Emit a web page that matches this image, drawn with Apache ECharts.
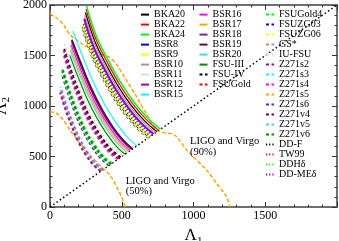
<!DOCTYPE html>
<html><head><meta charset="utf-8">
<script src="https://cdn.jsdelivr.net/npm/echarts@6/dist/echarts.min.js"></script>
<style>html,body{margin:0;padding:0;background:#fff}#c{width:339px;height:241px}</style>
</head><body><div id="c"></div>
<script>
// ---- data: [Lambda1, Lambda2] ----
const BKA24 = [[770,770],[678,886],[585,1040],[493,1232],[408,1448],[323,1694],[255,1990]];
const BKA22 = [[758,758],[667,872],[576,1023],[485,1213],[402,1425],[318,1668],[251,1959]];
const BKA20 = [[745,745],[656,857],[566,1006],[477,1192],[395,1401],[313,1639],[247,1926]];
const BSR10 = [[735,735],[647,845],[559,992],[470,1176],[390,1382],[309,1617],[243,1900]];
const BSR11 = [[728,728],[641,837],[553,983],[466,1165],[386,1369],[306,1602],[241,1882]];
const BSR12 = [[722,722],[635,830],[549,975],[462,1155],[383,1357],[303,1588],[239,1866]];
const DDMEd = [[715,715],[629,822],[543,965],[458,1144],[379,1344],[300,1573],[237,1848]];
const TW99 = [[710,710],[625,817],[540,959],[454,1136],[376,1335],[298,1562],[235,1835]];
const DDHd = [[705,705],[620,811],[536,952],[451,1128],[374,1325],[296,1551],[233,1822]];
const DDF = [[700,700],[616,805],[532,945],[448,1120],[371,1316],[294,1540],[232,1810]];
const BSR9 = [[695,695],[612,799],[528,938],[445,1112],[368,1307],[292,1529],[230,1797]];
const BSR8 = [[690,690],[607,794],[524,932],[442,1104],[366,1297],[290,1518],[228,1784]];
const FSUZG06 = [[688,688],[605,791],[523,929],[440,1101],[365,1293],[289,1514],[228,1778]];
const FSUZG03 = [[685,685],[603,788],[521,925],[438,1096],[363,1288],[288,1507],[227,1771]];

const BSR15 = [[605,605],[532,702],[454,847],[375,1029],[303,1234],[230,1482],[160,1742]];
const BSR19 = [[575,575],[506,667],[431,805],[357,978],[288,1173],[219,1409],[152,1656]];
const BSR18 = [[568,568],[500,659],[426,795],[352,966],[284,1159],[216,1392],[150,1636]];
const BSR16 = [[558,558],[491,647],[419,781],[346,949],[279,1138],[212,1367],[147,1607]];
const BSR17 = [[548,548],[482,636],[411,767],[340,932],[274,1118],[208,1343],[145,1578]];
const BSR20 = [[538,538],[473,624],[404,753],[334,915],[269,1098],[204,1318],[142,1549]];
const FSUIII = [[522,522],[459,606],[392,731],[324,887],[261,1065],[198,1279],[138,1503]];

const IUFSU = [[505,505],[434,591],[359,732],[283,919],[212,1151],[152,1389],[101,1616]];
const FSUIV = [[492,492],[423,576],[349,713],[276,895],[207,1122],[148,1353],[98,1574]];
const FSUGold = [[484,484],[416,566],[344,702],[271,881],[203,1104],[145,1331],[97,1549]];
const Z271s2 = [[478,478],[411,559],[339,693],[268,870],[201,1090],[143,1315],[96,1530]];
const GSstar = [[470,470],[404,550],[334,682],[263,855],[197,1072],[141,1293],[94,1504]];
const FSUGold4 = [[432,432],[372,505],[307,626],[242,786],[181,985],[130,1188],[86,1382]];
const Z271v6 = [[425,425],[366,497],[302,616],[238,774],[179,969],[128,1169],[85,1360]];
const Z271v5 = [[418,418],[359,489],[297,606],[234,761],[176,953],[125,1150],[84,1338]];
const Z271v4 = [[412,412],[354,482],[293,597],[231,750],[173,939],[124,1133],[82,1318]];
const Z271s3 = [[372,372],[320,435],[264,539],[208,677],[156,848],[112,1023],[74,1190]];
const Z271s4 = [[366,366],[315,428],[260,531],[205,666],[154,834],[110,1006],[73,1171]];
const Z271s5 = [[360,360],[310,421],[256,522],[202,655],[151,821],[108,990],[72,1152]];
const Z271s6 = [[354,354],[304,414],[251,513],[198,644],[149,807],[106,973],[71,1133]];

const LIGO90 = [[0,1910],[47,1871],[93,1805],[139,1705],[186,1655],[232,1606],[302,1556],[371,1506],[418,1480],[470,1400],[530,1260],[600,1100],[680,900],[743,760],[800,735],[850,725],[883,695],[953,563],[999,497],[1092,364],[1162,232],[1231,99],[1254,0]];
const LIGO50 = [[0,943],[47,927],[93,861],[139,762],[209,630],[279,514],[348,414],[418,315],[465,199],[500,99],[523,0]];
const DIAG = [[0,0],[2000,2000]];

const legendCol1 = ['BKA20','BKA22','BKA24','BSR8','BSR9','BSR10','BSR11','BSR12','BSR15'];
const legendCol2 = ['BSR16','BSR17','BSR18','BSR19','BSR20','FSU-III','FSU-IV','FSUGold'];
const legendCol3 = ['FSUGold4','FSUZG03','FSUZG06','GS*','IU-FSU','Z271s2','Z271s3','Z271s4','Z271s5','Z271s6','Z271v4','Z271v5','Z271v6','DD-F','TW99','DDH\u03b4','DD-ME\u03b4'];
const xTickLabels = ['0','500','1000','1500',''];
const yTickLabels = ['0','500','1000','1500','2000'];

// ---- styling ----
const curveData = {
  'BKA20':BKA20,'BKA22':BKA22,'BKA24':BKA24,'BSR8':BSR8,'BSR9':BSR9,'BSR10':BSR10,'BSR11':BSR11,'BSR12':BSR12,'BSR15':BSR15,
  'BSR16':BSR16,'BSR17':BSR17,'BSR18':BSR18,'BSR19':BSR19,'BSR20':BSR20,'FSU-III':FSUIII,'FSU-IV':FSUIV,'FSUGold':FSUGold,
  'FSUGold4':FSUGold4,'FSUZG03':FSUZG03,'FSUZG06':FSUZG06,'GS*':GSstar,'IU-FSU':IUFSU,'Z271s2':Z271s2,'Z271s3':Z271s3,
  'Z271s4':Z271s4,'Z271s5':Z271s5,'Z271s6':Z271s6,'Z271v4':Z271v4,'Z271v5':Z271v5,'Z271v6':Z271v6,
  'DD-F':DDF,'TW99':TW99,'DDH\u03b4':DDHd,'DD-ME\u03b4':DDMEd
};
const C = {black:'#000000',red:'#ff0000',green:'#00ff00',blue:'#0000ff',yellow:'#ffff00',brown:'#bc8f8f',grey:'#dcdcdc',
  violet:'#9400d3',cyan:'#00ffff',magenta:'#ff00ff',orange:'#ffa500',indigo:'#7221bc',maroon:'#670748',turq:'#40e0d0',green4:'#008b00'};
const DASH = [3,2.5], DOT = [1.2,2];
const styleOf = {
  'BKA20':[C.black,'solid',1.2],'BKA22':[C.red,'solid',1.2],'BKA24':[C.green,'solid',1.5],'BSR8':[C.blue,'solid',1.2],
  'BSR9':[C.yellow,'solid',1.2],'BSR10':[C.brown,'solid',1.2],'BSR11':[C.grey,'solid',1.2],'BSR12':[C.violet,'solid',2],
  'BSR15':[C.cyan,'solid',1.2],'BSR16':[C.magenta,'solid',1.2],'BSR17':[C.orange,'solid',1.2],'BSR18':[C.indigo,'solid',1.2],
  'BSR19':[C.maroon,'solid',2],'BSR20':[C.turq,'solid',1.2],'FSU-III':[C.green4,'solid',1.2],'FSU-IV':[C.black,DASH,2],
  'FSUGold':[C.red,DASH,2],'FSUGold4':[C.green,DASH,2],'FSUZG03':[C.blue,DASH,2],'FSUZG06':[C.yellow,DASH,2],
  'GS*':[C.brown,DASH,2],'IU-FSU':[C.grey,DASH,2],'Z271s2':[C.violet,DASH,2],'Z271s3':[C.cyan,DASH,2],'Z271s4':[C.magenta,DASH,2],
  'Z271s5':[C.orange,DASH,2],'Z271s6':[C.indigo,DASH,2],'Z271v4':[C.maroon,DASH,2],'Z271v5':[C.turq,DASH,2],'Z271v6':[C.green4,DASH,2],
  'DD-F':[C.black,DOT,1.2],'TW99':[C.red,DOT,1.2],'DDH\u03b4':[C.green,DOT,1.2],'DD-ME\u03b4':[C.violet,DOT,1.2]
};
const FF = '"Liberation Serif","Times New Roman",serif';

const series = [
  {type:'line', data:DIAG, symbol:'none', silent:true, z:1, lineStyle:{color:'#000', width:1.5, type:[1.5,2.5]}},
  {type:'line', data:LIGO90, symbol:'none', smooth:0.3, silent:true, z:1, lineStyle:{color:C.orange, width:1.5, type:[4,2]}},
  {type:'line', data:LIGO50, symbol:'none', smooth:0.3, silent:true, z:1, lineStyle:{color:C.orange, width:1.5, type:[4,2]}}
];
const allNames = legendCol1.concat(legendCol2, legendCol3);
allNames.forEach(n => {
  const s = styleOf[n];
  series.push({name:n, type:'line', data:curveData[n], symbol:'none', smooth:0.4, z:2,
    lineStyle:{color:s[0], type:s[1], width:s[2]}});
});

function mkX(pos, labels){
  return {type:'value', min:0, max:2000, interval:500, position:pos,
    axisLine:{show:true, onZero:false, lineStyle:{color:'#6e6e6e', width:2}},
    axisTick:{show:true, inside:true, length:5, lineStyle:{color:'#333', width:1}},
    minorTick:{show:true, splitNumber:5, length:2.5, lineStyle:{color:'#333', width:1}},
    splitLine:{show:false}, minorSplitLine:{show:false},
    axisLabel:{show:labels, margin:3, fontSize:12, fontFamily:FF, color:'#000',
      formatter:v => xTickLabels[Math.round(v/500)]}};
}
function mkY(pos, labels){
  return {type:'value', min:0, max:2000, interval:500, position:pos,
    axisLine:{show:true, onZero:false, lineStyle:{color:'#6e6e6e', width:2}},
    axisTick:{show:true, inside:true, length:5, lineStyle:{color:'#333', width:1}},
    minorTick:{show:true, splitNumber:5, length:2.5, lineStyle:{color:'#333', width:1}},
    splitLine:{show:false}, minorSplitLine:{show:false},
    axisLabel:{show:labels, margin:3, fontSize:12, fontFamily:FF, color:'#000',
      formatter:v => yTickLabels[Math.round(v/500)]}};
}
const nameRich = {a:{fontFamily:FF, fontSize:17, lineHeight:22, color:'#000'}, b:{fontFamily:FF, fontSize:11, lineHeight:6, verticalAlign:'bottom', color:'#000'}};
const xb = mkX('bottom', true);
xb.name = '{a|\u039b}{b|1}'; xb.nameLocation = 'middle'; xb.nameGap = 9;
xb.nameTextStyle = {rich:nameRich};
const yl = mkY('left', true);
yl.name = '{a|\u039b}{b|2}'; yl.nameLocation = 'middle'; yl.nameGap = 30;
yl.nameTextStyle = {rich:nameRich};

const legendLeft = [140, 198.5, 265];
const legends = [legendCol1, legendCol2, legendCol3].map((d,i) => ({
  data:d, orient:'vertical', left:legendLeft[i], top:9.6, itemWidth:8, itemHeight:6, itemGap:0, padding:0,
  selectedMode:false, itemStyle:{opacity:0}, textStyle:{fontFamily:FF, fontSize:10, color:'#000', lineHeight:9.8}
}));

const chart = echarts.init(document.getElementById('c'), null, {renderer:'canvas'});
chart.setOption({
  animation:false, backgroundColor:'#fff',
  grid:{left:50, right:2, top:5, bottom:34, containLabel:false, outerBoundsMode:'none'},
  xAxis:[xb, mkX('top', false)],
  yAxis:[yl, mkY('right', false)],
  legend:legends,
  series:series,
  graphic:[
    {type:'text', left:190, top:135.8, z:10, style:{text:'LIGO and Virgo\n(90%)', font:'10.5px '+FF, fill:'#000', lineHeight:10.5}},
    {type:'text', left:125.7, top:176, z:10, style:{text:'LIGO and Virgo\n(50%)', font:'10.5px '+FF, fill:'#000', lineHeight:10}}
  ]
});
</script></body></html>
